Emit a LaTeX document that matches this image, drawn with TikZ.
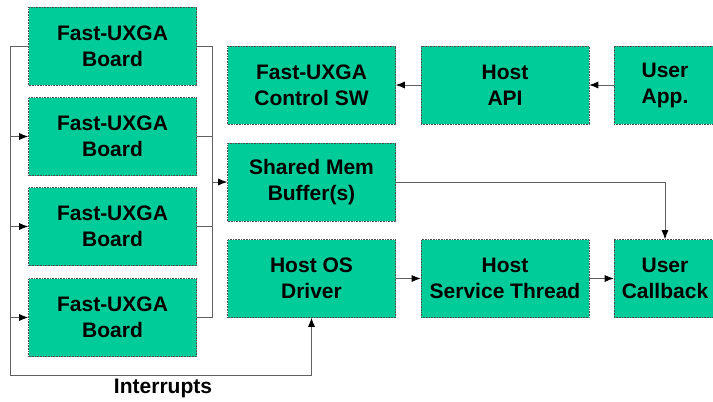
\documentclass[tikz,border=0pt]{standalone}
\usepackage{fontspec}
\setmainfont{Liberation Sans}
\usetikzlibrary{arrows.meta}
\definecolor{boxgreen}{RGB}{0,204,153}
\begin{document}
\begin{tikzpicture}[x=1pt,y=-1pt,
  box/.style={rectangle,draw=gray!60!black,densely dotted,line width=0.6pt,fill=boxgreen,
    minimum width=168pt,minimum height=78pt,align=center,inner sep=0pt,
    font=\fontsize{21}{26}\selectfont\bfseries},
  small box/.style={box,minimum width=102pt},
  wire/.style={draw=gray!75!black,line width=0.8pt},
  arr/.style={wire,-{Latex[length=9pt,width=7pt,black]}}]
\useasboundingbox (0,0) rectangle (713,402);

\node[box] (b1) at (112.5,46) {Fast-UXGA\\Board};
\node[box] (b2) at (112.5,136.5) {Fast-UXGA\\Board};
\node[box] (b3) at (112.5,226.5) {Fast-UXGA\\Board};
\node[box] (b4) at (112.5,317.5) {Fast-UXGA\\Board};

\node[box] (ctrl) at (311.5,85) {Fast-UXGA\\Control SW};
\node[box] (api) at (505,85) {Host\\API};
\node[small box] (app) at (665,85) {User\\App.};

\node[box] (shm) at (311.5,182) {Shared Mem\\Buffer(s)};

\node[box] (drv) at (311.5,278.5) {Host OS\\Driver};
\node[box] (thr) at (505,278.5) {Host\\Service Thread};
\node[small box] (cb) at (665,278.5) {User\\Callback};

\node[font=\fontsize{21}{24}\selectfont\bfseries] (irq) at (163,388) {Interrupts};

\coordinate (lbus) at (10,375);
\coordinate (rbus) at (212,182);

% interrupt bus on the left
\path[arr] (b1.west) -| (lbus) -| (drv.south);
\path[arr] (b2.west -| lbus) -- (b2.west);
\path[arr] (b3.west -| lbus) -- (b3.west);
\path[arr] (b4.west -| lbus) -- (b4.west);

% data bus on the right
\path[wire] (b1.east) -| (b4.east -| rbus) -- (b4.east);
\path[wire] (b2.east) -- (b2.east -| rbus);
\path[wire] (b3.east) -- (b3.east -| rbus);
\path[arr] (rbus) -- (shm.west);

\path[arr] (app) -- (api);
\path[arr] (api) -- (ctrl);
\path[arr] (drv) -- (thr);
\path[arr] (thr) -- (cb);
\path[arr] (shm.east) -| (cb.north);
\end{tikzpicture}
\end{document}
